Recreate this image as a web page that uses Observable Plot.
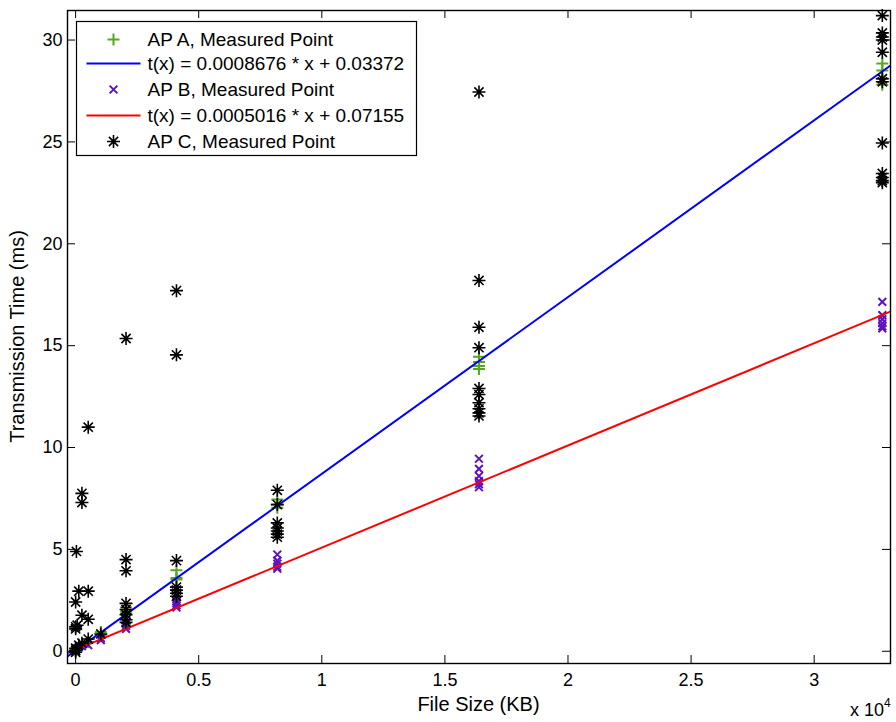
<!DOCTYPE html>
<html>
<head>
<meta charset="utf-8">
<script src="https://cdn.jsdelivr.net/npm/d3@7"></script>
<script src="https://cdn.jsdelivr.net/npm/@observablehq/plot@0.6"></script>
<style>
  html, body { margin: 0; padding: 0; background: #fff; }
  #chart svg { display: block; }
</style>
</head>
<body>
<div id="chart"></div>
<script>
// ---------- data (file size in KB, transmission time in ms) ----------
const apA = [
  [1,0.02],[1,0.08],[128,0.2],[256,0.3],[512,0.45],[1024,0.95],[1024,0.8],
  [2048,2.15],[2048,1.95],[2048,1.85],
  [4096,3.98],[4096,3.6],[4096,3.52],
  [8192,7.45],[8192,7.2],[8192,7.05],
  [16384,14.45],[16384,14.2],[16384,14.0],[16384,13.85],
  [32768,28.85],[32768,28.5],[32768,28.1],[32768,27.8]
];
const apB = [
  [1,0.0],[1,0.1],[128,0.2],[256,0.25],[512,0.3],[1024,0.55],[1024,0.65],
  [2048,1.1],[2048,1.25],[2048,1.35],
  [4096,2.45],[4096,2.35],[4096,2.25],[4096,2.15],
  [8192,4.75],[8192,4.45],[8192,4.3],[8192,4.15],[8192,4.05],
  [16384,9.45],[16384,8.95],[16384,8.6],[16384,8.35],[16384,8.2],[16384,8.05],
  [32768,17.15],[32768,16.5],[32768,16.3],[32768,16.1],[32768,15.95],[32768,15.85]
];
const apC = [
  [32,4.9],[1,2.42],[1,1.2],[1,1.1],[1,0.15],[1,0.05],[1,-0.05],
  [64,1.28],[128,2.95],[128,0.3],
  [256,7.75],[256,7.3],[256,1.77],[256,0.4],
  [512,11.0],[512,2.95],[512,1.57],[512,0.6],
  [1024,0.85],
  [2048,15.35],[2048,4.5],[2048,3.95],[2048,2.35],[2048,2.05],[2048,1.8],[2048,1.55],[2048,1.42],
  [4096,17.7],[4096,14.55],[4096,4.45],[4096,3.15],[4096,3.0],[4096,2.85],[4096,2.7],
  [8192,7.9],[8192,7.2],[8192,6.3],[8192,6.05],[8192,5.9],[8192,5.75],[8192,5.6],
  [16384,27.45],[16384,18.2],[16384,15.9],[16384,14.9],[16384,12.9],[16384,12.6],
  [16384,12.2],[16384,11.9],[16384,11.7],[16384,11.55],
  [32768,31.2],[32768,30.35],[32768,30.15],[32768,30.0],[32768,29.4],[32768,28.1],
  [32768,27.95],[32768,24.95],[32768,23.45],[32768,23.25],[32768,23.1],[32768,23.0]
];
// linear fits shown in legend: t(x) = slope * x + intercept
const fitA = {slope: 0.0008676, intercept: 0.03372, label: "t(x) = 0.0008676 * x + 0.03372"};
const fitB = {slope: 0.0005016, intercept: 0.07155, label: "t(x) = 0.0005016 * x + 0.07155"};
const xTicks = [0, 5000, 10000, 15000, 20000, 25000, 30000];
const yTicks = [0, 5, 10, 15, 20, 25, 30];
const xDomain = [-330, 33100];
const yDomain = [-0.6, 31.45];
const legendLabels = ["AP A, Measured Point", fitA.label, "AP B, Measured Point", fitB.label, "AP C, Measured Point"];

// ---------- styles ----------
const FONT = "'Liberation Sans', Arial, Helvetica, sans-serif";
const GREEN = "#56a81e", PURPLE = "#5f12c2", BLUE = "#0000ff", RED = "#ff0000";

const symPlus = {draw(ctx, size) { const r = Math.sqrt(size / Math.PI);
  ctx.moveTo(-r, 0); ctx.lineTo(r, 0); ctx.moveTo(0, -r); ctx.lineTo(0, r); }};
const symTimes = {draw(ctx, size) { const r = Math.sqrt(size / Math.PI) * Math.SQRT1_2;
  ctx.moveTo(-r, -r); ctx.lineTo(r, r); ctx.moveTo(-r, r); ctx.lineTo(r, -r); }};
const symStar = {draw(ctx, size) { const r = Math.sqrt(size / Math.PI), d = r * Math.SQRT1_2;
  ctx.moveTo(-r, 0); ctx.lineTo(r, 0); ctx.moveTo(0, -r); ctx.lineTo(0, r);
  ctx.moveTo(-d, -d); ctx.lineTo(d, d); ctx.moveTo(-d, d); ctx.lineTo(d, -d); }};

const fitLine = f => xDomain.map(x => ({x, y: f.slope * x + f.intercept}));

const W = 896, H = 722, ML = 67, MR = 6, MT = 10, MB = 59;
const FW = W - ML - MR, FH = H - MT - MB, TICK = 8;

const svg = Plot.plot({
  width: W, height: H,
  marginLeft: ML, marginRight: MR, marginTop: MT, marginBottom: MB,
  style: {fontFamily: FONT, fontSize: "17px", color: "#000", background: "#fff"},
  x: {domain: xDomain, axis: null},
  y: {domain: yDomain, axis: null},
  marks: [
    Plot.dot(apA, {x: d => d[0], y: d => d[1], symbol: symPlus, r: 6, fill: "none", stroke: GREEN, strokeWidth: 2}),
    Plot.line(fitLine(fitA), {x: "x", y: "y", stroke: BLUE, strokeWidth: 2, clip: true}),
    Plot.dot(apB, {x: d => d[0], y: d => d[1], symbol: symTimes, r: 5.5, fill: "none", stroke: PURPLE, strokeWidth: 2}),
    Plot.line(fitLine(fitB), {x: "x", y: "y", stroke: RED, strokeWidth: 2, clip: true}),
    Plot.dot(apC, {x: d => d[0], y: d => d[1], symbol: symStar, r: 6.5, fill: "none", stroke: "#000", strokeWidth: 1.6}),
    // inward ticks on all four sides
    Plot.tickX(xTicks, {x: d => d, insetTop: FH - TICK, stroke: "#000", strokeWidth: 1}),
    Plot.tickX(xTicks, {x: d => d, insetBottom: FH - TICK, stroke: "#000", strokeWidth: 1}),
    Plot.tickY(yTicks, {y: d => d, insetRight: FW - TICK, stroke: "#000", strokeWidth: 1}),
    Plot.tickY(yTicks, {y: d => d, insetLeft: FW - TICK, stroke: "#000", strokeWidth: 1}),
    Plot.axisX({ticks: xTicks, tickSize: 0, tickPadding: 10, tickFormat: d => String(d / 1e4), label: null, fontSize: 18}),
    Plot.axisY({ticks: yTicks, tickSize: 0, tickPadding: 5, tickFormat: d => String(d), label: null, fontSize: 18}),
    Plot.frame({stroke: "#000", strokeWidth: 1.4})
  ]
});

const g = d3.select(svg);
// axis labels
g.append("text").attr("x", ML + FW / 2).attr("y", 711).attr("text-anchor", "middle")
  .attr("font-family", FONT).attr("font-size", 20).attr("fill", "#000").text("File Size (KB)");
g.append("text").attr("transform", `translate(24,${MT + FH / 2}) rotate(-90)`).attr("text-anchor", "middle")
  .attr("font-family", FONT).attr("font-size", 20).attr("fill", "#000").text("Transmission Time (ms)");
const exp = g.append("text").attr("x", 850).attr("y", 716).attr("text-anchor", "start")
  .attr("font-family", FONT).attr("font-size", 18).attr("fill", "#000");
exp.append("tspan").text("x 10");
exp.append("tspan").attr("font-size", 12).attr("dy", -9).text("4");

// legend
const lg = g.append("g").attr("transform", "translate(76.5,21.5)").attr("text-anchor", "start");
lg.append("rect").attr("width", 340).attr("height", 134).attr("fill", "#fff").attr("stroke", "#000").attr("stroke-width", 1.2);
const rowY = [18, 42, 68, 94, 120];
const rowKinds = [["sym", symPlus, 6, GREEN, 2], ["line", BLUE], ["sym", symTimes, 5.5, PURPLE, 2], ["line", RED], ["sym", symStar, 6.5, "#000", 1.6]];
rowKinds.forEach((k, i) => {
  const y = rowY[i];
  if (k[0] === "line") {
    lg.append("line").attr("x1", 10).attr("x2", 64).attr("y1", y).attr("y2", y).attr("stroke", k[1]).attr("stroke-width", 2);
  } else {
    lg.append("path").attr("transform", `translate(37,${y})`)
      .attr("d", d3.symbol(k[1], k[2] * k[2] * Math.PI)())
      .attr("fill", "none").attr("stroke", k[3]).attr("stroke-width", k[4]);
  }
  lg.append("text").attr("x", 71).attr("y", y).attr("dy", "0.36em").attr("text-anchor", "start")
    .attr("font-family", FONT).attr("font-size", 19).attr("fill", "#000").text(legendLabels[i]);
});

document.getElementById("chart").appendChild(svg);
</script>
</body>
</html>
